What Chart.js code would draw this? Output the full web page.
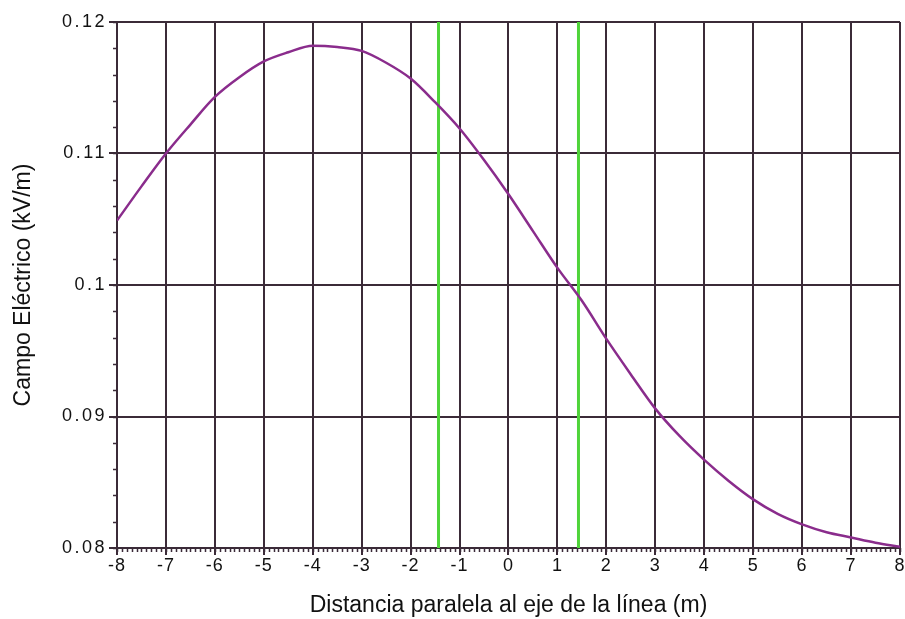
<!DOCTYPE html>
<html>
<head>
<meta charset="utf-8">
<script src="https://cdn.jsdelivr.net/npm/chart.js@4/dist/chart.umd.min.js"></script>
<style>
html,body{margin:0;padding:0;background:#fff;}
#wrap{width:905px;height:619px;position:relative;}
</style>
</head>
<body>
<div id="wrap"><canvas id="c" width="905" height="619"></canvas></div>
<script>
// Distance parallel to the line axis (m)
const distances = [-8,-7.5,-7,-6.5,-6,-5.5,-5,-4.5,-4,-3.5,-3,-2.5,-2,-1.5,-1,-0.5,0,0.5,1,1.5,2,2.5,3,3.5,4,4.5,5,5.5,6,6.5,7,7.5,8];
// Electric field (kV/m)
const campoElectrico = [0.1049,0.1075,0.1100,0.1122,0.1143,0.1158,0.1170,0.1177,0.1182,0.1181,0.1178,0.1169,0.1157,0.1139,0.1119,0.1095,0.1069,0.1041,0.1013,0.0988,0.0959,0.0932,0.0906,0.0885,0.0867,0.0851,0.0837,0.0826,0.0818,0.0812,0.0808,0.0804,0.0801];
// Green vertical marker positions (m)
const markerPositions = [-1.43, 1.43];
const yTickLabels = {"0.08":"0.08","0.09":"0.09","0.1":"0.1","0.11":"0.11","0.12":"0.12"};
const xTickLabels = ["-8","-7","-6","-5","-4","-3","-2","-1","0","1","2","3","4","5","6","7","8"];
const yRange = [0.08, 0.12];
const xRange = [-8, 8];

const gridColor = '#3b2b38';
const FONT = 'Liberation Sans, Arial, sans-serif';

const datasets = [];
markerPositions.forEach(p => {
  datasets.push({
    data: [{x:p, y:yRange[0]}, {x:p, y:yRange[1]}],
    borderColor: '#4fd43a', borderWidth: 3, pointRadius: 0, showLine: true, order: 2
  });
});
datasets.push({
  data: distances.map((d,i)=>({x:d, y:campoElectrico[i]})),
  borderColor: '#8a2c8c', borderWidth: 2.5, pointRadius: 0, showLine: true,
  cubicInterpolationMode: 'monotone', order: 1
});

function spacedLabels(spacing) {
  return function(s) {
    if (s._spacedPatched) return;
    const orig = s.drawLabels;
    s.drawLabels = function(area) {
      const c = this.ctx;
      const prev = c.letterSpacing;
      c.letterSpacing = spacing;
      orig.call(this, area);
      c.letterSpacing = prev || '0px';
    };
    s._spacedPatched = true;
  };
}

const minorTicks = {
  id: 'minorTicks',
  afterDatasetsDraw(chart) {
    const ctx = chart.ctx, xs = chart.scales.x, ys = chart.scales.y;
    ctx.save();
    ctx.strokeStyle = gridColor; ctx.lineWidth = 1.5;
    ctx.beginPath();
    for (let i = 0; i <= 160; i++) {
      const v = xRange[0] + i * 0.1;
      const px = Math.round(xs.getPixelForValue(v)) + 0.5;
      ctx.moveTo(px, ys.bottom); ctx.lineTo(px, ys.bottom + 4);
    }
    for (let i = 0; i <= 20; i++) {
      const v = yRange[0] + i * 0.002;
      const py = Math.round(ys.getPixelForValue(v)) + 0.5;
      ctx.moveTo(xs.left - 4, py); ctx.lineTo(xs.left, py);
    }
    ctx.stroke();
    ctx.restore();
  }
};

new Chart(document.getElementById('c'), {
  type: 'scatter',
  data: { datasets },
  plugins: [minorTicks],
  options: {
    responsive: false,
    animation: false,
    layout: { padding: { top: 22, right: 3, left: 0, bottom: 0 } },
    plugins: { legend: { display: false }, tooltip: { enabled: false } },
    scales: {
      x: {
        type: 'linear', min: xRange[0], max: xRange[1],
        afterFit(s){ s.height = 71; },
        afterUpdate: spacedLabels('1px'),
        border: { color: gridColor, width: 2 },
        grid: { color: gridColor, lineWidth: 2, tickLength: 7, drawTicks: true },
        ticks: {
          stepSize: 1, color: '#111', padding: 0,
          font: { family: FONT, size: 18 },
          callback: (v) => xTickLabels[Math.round(v - xRange[0])]
        },
        title: {
          display: true, text: 'Distancia paralela al eje de la línea (m)',
          color: '#111', font: { family: FONT, size: 23 },
          padding: { top: 0, bottom: 0 }
        }
      },
      y: {
        type: 'linear', min: yRange[0], max: yRange[1],
        afterFit(s){ s.width = 117; },
        afterUpdate: spacedLabels('2.5px'),
        border: { color: gridColor, width: 2 },
        grid: { color: gridColor, lineWidth: 2, tickLength: 8, drawTicks: true },
        ticks: {
          stepSize: 0.01, color: '#111', padding: 2,
          font: { family: FONT, size: 18 },
          callback: (v) => yTickLabels[String(parseFloat(v.toFixed(2)))]
        },
        title: {
          display: true, text: 'Campo Eléctrico (kV/m)',
          color: '#111', font: { family: FONT, size: 23 },
          padding: { top: 10, bottom: 0 }
        }
      }
    }
  }
});
</script>
</body>
</html>
